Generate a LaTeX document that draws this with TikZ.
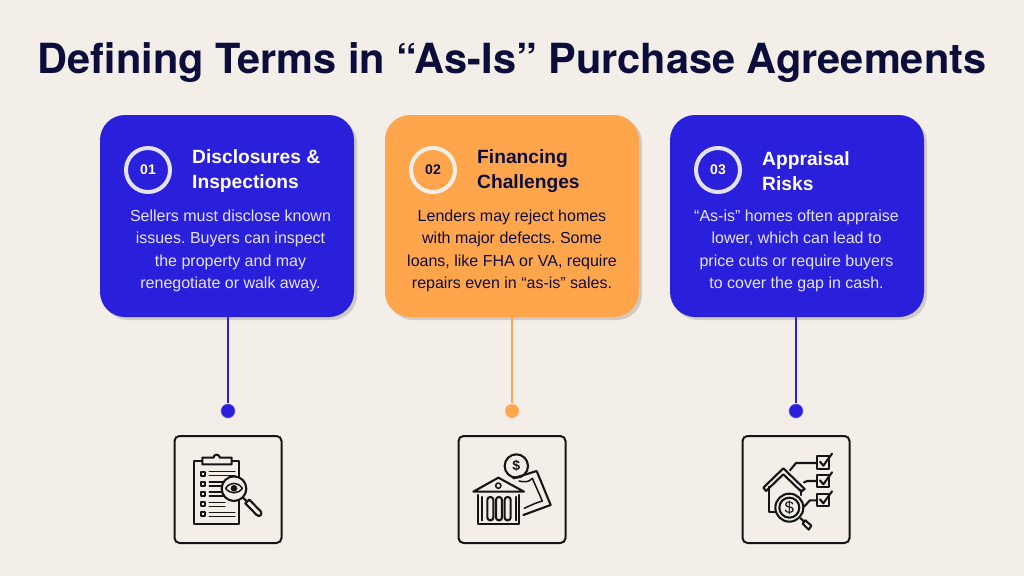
\documentclass[tikz,border=0pt]{standalone}
\usepackage{fontspec}
\setmainfont{Liberation Sans}
\newfontfamily\titlefont{TeX Gyre Heros}
\definecolor{bgc}{HTML}{F3EFE8}
\definecolor{blu}{HTML}{2A20DC}
\definecolor{org}{HTML}{FFA64C}
\definecolor{ttl}{HTML}{0D0D3B}
\definecolor{shd}{HTML}{CFCBC6}
\definecolor{ink}{HTML}{151515}
\definecolor{bluetxt}{HTML}{E4E2FB}
\tikzset{
  card/.style={minimum width=254pt,minimum height=202pt,rounded corners=25pt,inner sep=0pt,
    preaction={draw=none,fill=shd,transform canvas={shift={(3pt,-3pt)}}}},
  ring/.style={circle,draw=#1,line width=4pt,minimum size=44pt,inner sep=0pt,font=\bfseries\fontsize{14}{14}\selectfont},
  headtxt/.style={anchor=west,align=left,inner sep=0pt,font=\bfseries\fontsize{19.2}{25}\selectfont},
  bodytxt/.style={align=center,font=\frenchspacing\fontsize{16}{22.5}\selectfont},
  dotn/.style={circle,fill=#1,draw=white,draw opacity=.55,line width=1.2pt,minimum size=15pt,inner sep=0pt},
  iconbox/.style={draw=ink,line width=2pt,rounded corners=5pt,minimum width=107pt,minimum height=107pt,inner sep=0pt},
  link/.style={draw=#1,line width=1.3pt},
  ic/.style={draw=ink,line width=1.5pt,line join=round,line cap=round},
  ict/.style={draw=ink,line width=2.1pt,line join=round,line cap=round},
}
\begin{document}
\begin{tikzpicture}[x=1pt,y=-1pt]
\path[use as bounding box,fill=bgc] (0,0) rectangle (1024,576);
\node[anchor=base,text=ttl,font=\titlefont\bfseries\fontsize{41.5}{44}\selectfont] (title) at (512,73) {Defining Terms in “As-Is” Purchase Agreements};

\node[card,fill=blu] (c1) at (227,216) {};
\node[card,fill=org] (c2) at (512,216) {};
\node[card,fill=blu] (c3) at (797,216) {};

\node[ring=bluetxt,text=white] (r1) at (148,170) {01};
\node[ring=bgc,text=ttl] (r2) at (433,170) {02};
\node[ring=bluetxt,text=white] (r3) at (718,170) {03};

\node[headtxt,text=white] (h1) at (192,171) {Disclosures \&\\Inspections};
\node[headtxt,text=ttl] (h2) at (477,171) {Financing\\Challenges};
\node[headtxt,text=white] (h3) at (762,171) {Appraisal\\Risks};

\node[bodytxt,text=bluetxt] (b1) at (230.5,251) {Sellers must disclose known\\issues. Buyers can inspect\\the property and may\\renegotiate or walk away.};
\node[bodytxt,text=ttl] (b2) at (512,251) {Lenders may reject homes\\with major defects. Some\\loans, like FHA or VA, require\\repairs even in “as-is” sales.};
\node[bodytxt,text=bluetxt] (b3) at (796.5,251) {“As-is” homes often appraise\\lower, which can lead to\\price cuts or require buyers\\to cover the gap in cash.};

\node[dotn=blu] (d1) at (228,411) {};
\node[dotn=org] (d2) at (512,411) {};
\node[dotn=blu] (d3) at (796,411) {};
\draw[link=blu] (d1 |- c1.south) -- (d1);
\draw[link=org] (d2 |- c2.south) -- (d2);
\draw[link=blu] (d3 |- c3.south) -- (d3);

\node[iconbox] (i1) at (228,489.5) {};
\node[iconbox] (i2) at (512,489.5) {};
\node[iconbox] (i3) at (796,489.5) {};

% icon 1: clipboard with magnifier
\begin{scope}[shift={(160,395)},x=0.3333pt,y=-0.3333pt]
  \draw[ict] (103,198) -- (103,386) -- (238,386) -- (238,198) -- cycle;
  \draw[ict,fill=bgc] (127,208) -- (127,188) -- (160,188) .. controls (163,176) and (177,176) .. (180,188) -- (215,188) -- (215,208) -- cycle;
  \foreach \yy/\xe in {236/225,267/195,297/190,328/195,358/225}{
    \draw[ict] (123,\yy-6) rectangle (136,\yy+6);
    \draw[ic] (148,\yy-6) -- (\xe,\yy-6);
    \draw[ic] (148,\yy+6) -- (\xe,\yy+6);
  }
  \draw[ict,fill=bgc] (222,281) circle (37);
  \draw[ic] (197,280) .. controls (210,260) and (234,260) .. (247,280) .. controls (234,298) and (210,298) .. (197,280) -- cycle;
  \fill[ink] (222,280) circle (10);
  \draw[ict] (250,309) -- (260,319);
  \draw[ict,fill=bgc] (268,314) -- (303,350) .. controls (308,358) and (298,368) .. (290,360) -- (256,325) -- cycle;
\end{scope}

% icon 2: bank and money
\begin{scope}[shift={(445,395)},x=0.3333pt,y=-0.3333pt]
  \draw[ict] (214,213) circle (35);
  \node[font=\bfseries\fontsize{14}{14}\selectfont,text=ink] (dollar2) at (214,213) {\$};
  \draw[ict] (205,250) -- (275,228) -- (317,330) -- (235,360);
  \draw[ic] (222,258) .. controls (240,262) and (250,262) .. (262,250) -- (292,318) .. controls (278,322) and (262,328) .. (238,340);
  \draw[ict,fill=bgc] (85,290) -- (160,248) -- (237,290) -- cycle;
  \draw[ic] (160,272) circle (8);
  \draw[ict] (100,300) -- (100,388) -- (222,388) -- (222,300);
  \foreach \xx in {112,212}{\draw[ict] (\xx,306) -- (\xx,376);}
  \foreach \xx in {136,162,188}{\draw[ict,rounded corners=2.8pt] (\xx-9,306) rectangle (\xx+9,376);}
\end{scope}

% icon 3: house, magnifier, checklist
\begin{scope}[shift={(730,395)},x=0.3333pt,y=-0.3333pt]
  \draw[ict,fill=bgc] (100,278) -- (160,220) -- (224,282) -- (214,290) -- (160,238) -- (108,288) -- cycle;
  \draw[ict] (118,275) -- (118,350) -- (135,350);
  \draw[ict] (212,285) -- (212,300);
  \draw[ict] (180,226) -- (198,204) -- (258,204);
  \draw[ict] (222,262) -- (232,258) -- (258,258);
  \draw[ict] (222,335) -- (240,316) -- (258,316);
  \foreach \yy in {202,258,315}{
    \draw[ict,fill=bgc] (260,\yy-19) rectangle (298,\yy+19);
    \draw[ict] (270,\yy-2) -- (280,\yy+10) -- (306,\yy-26);
  }
  \draw[ict,fill=bgc] (178,338) circle (42);
  \draw[ict] (178,338) circle (30);
  \node[font=\fontsize{17}{17}\selectfont,text=ink] (dollar3) at (178,338) {\$};
  \draw[ict] (212,370) -- (222,380);
  \draw[ict,fill=bgc] (218,386) -- (226,376) -- (244,392) -- (236,404) -- cycle;
\end{scope}
\end{tikzpicture}
\end{document}
